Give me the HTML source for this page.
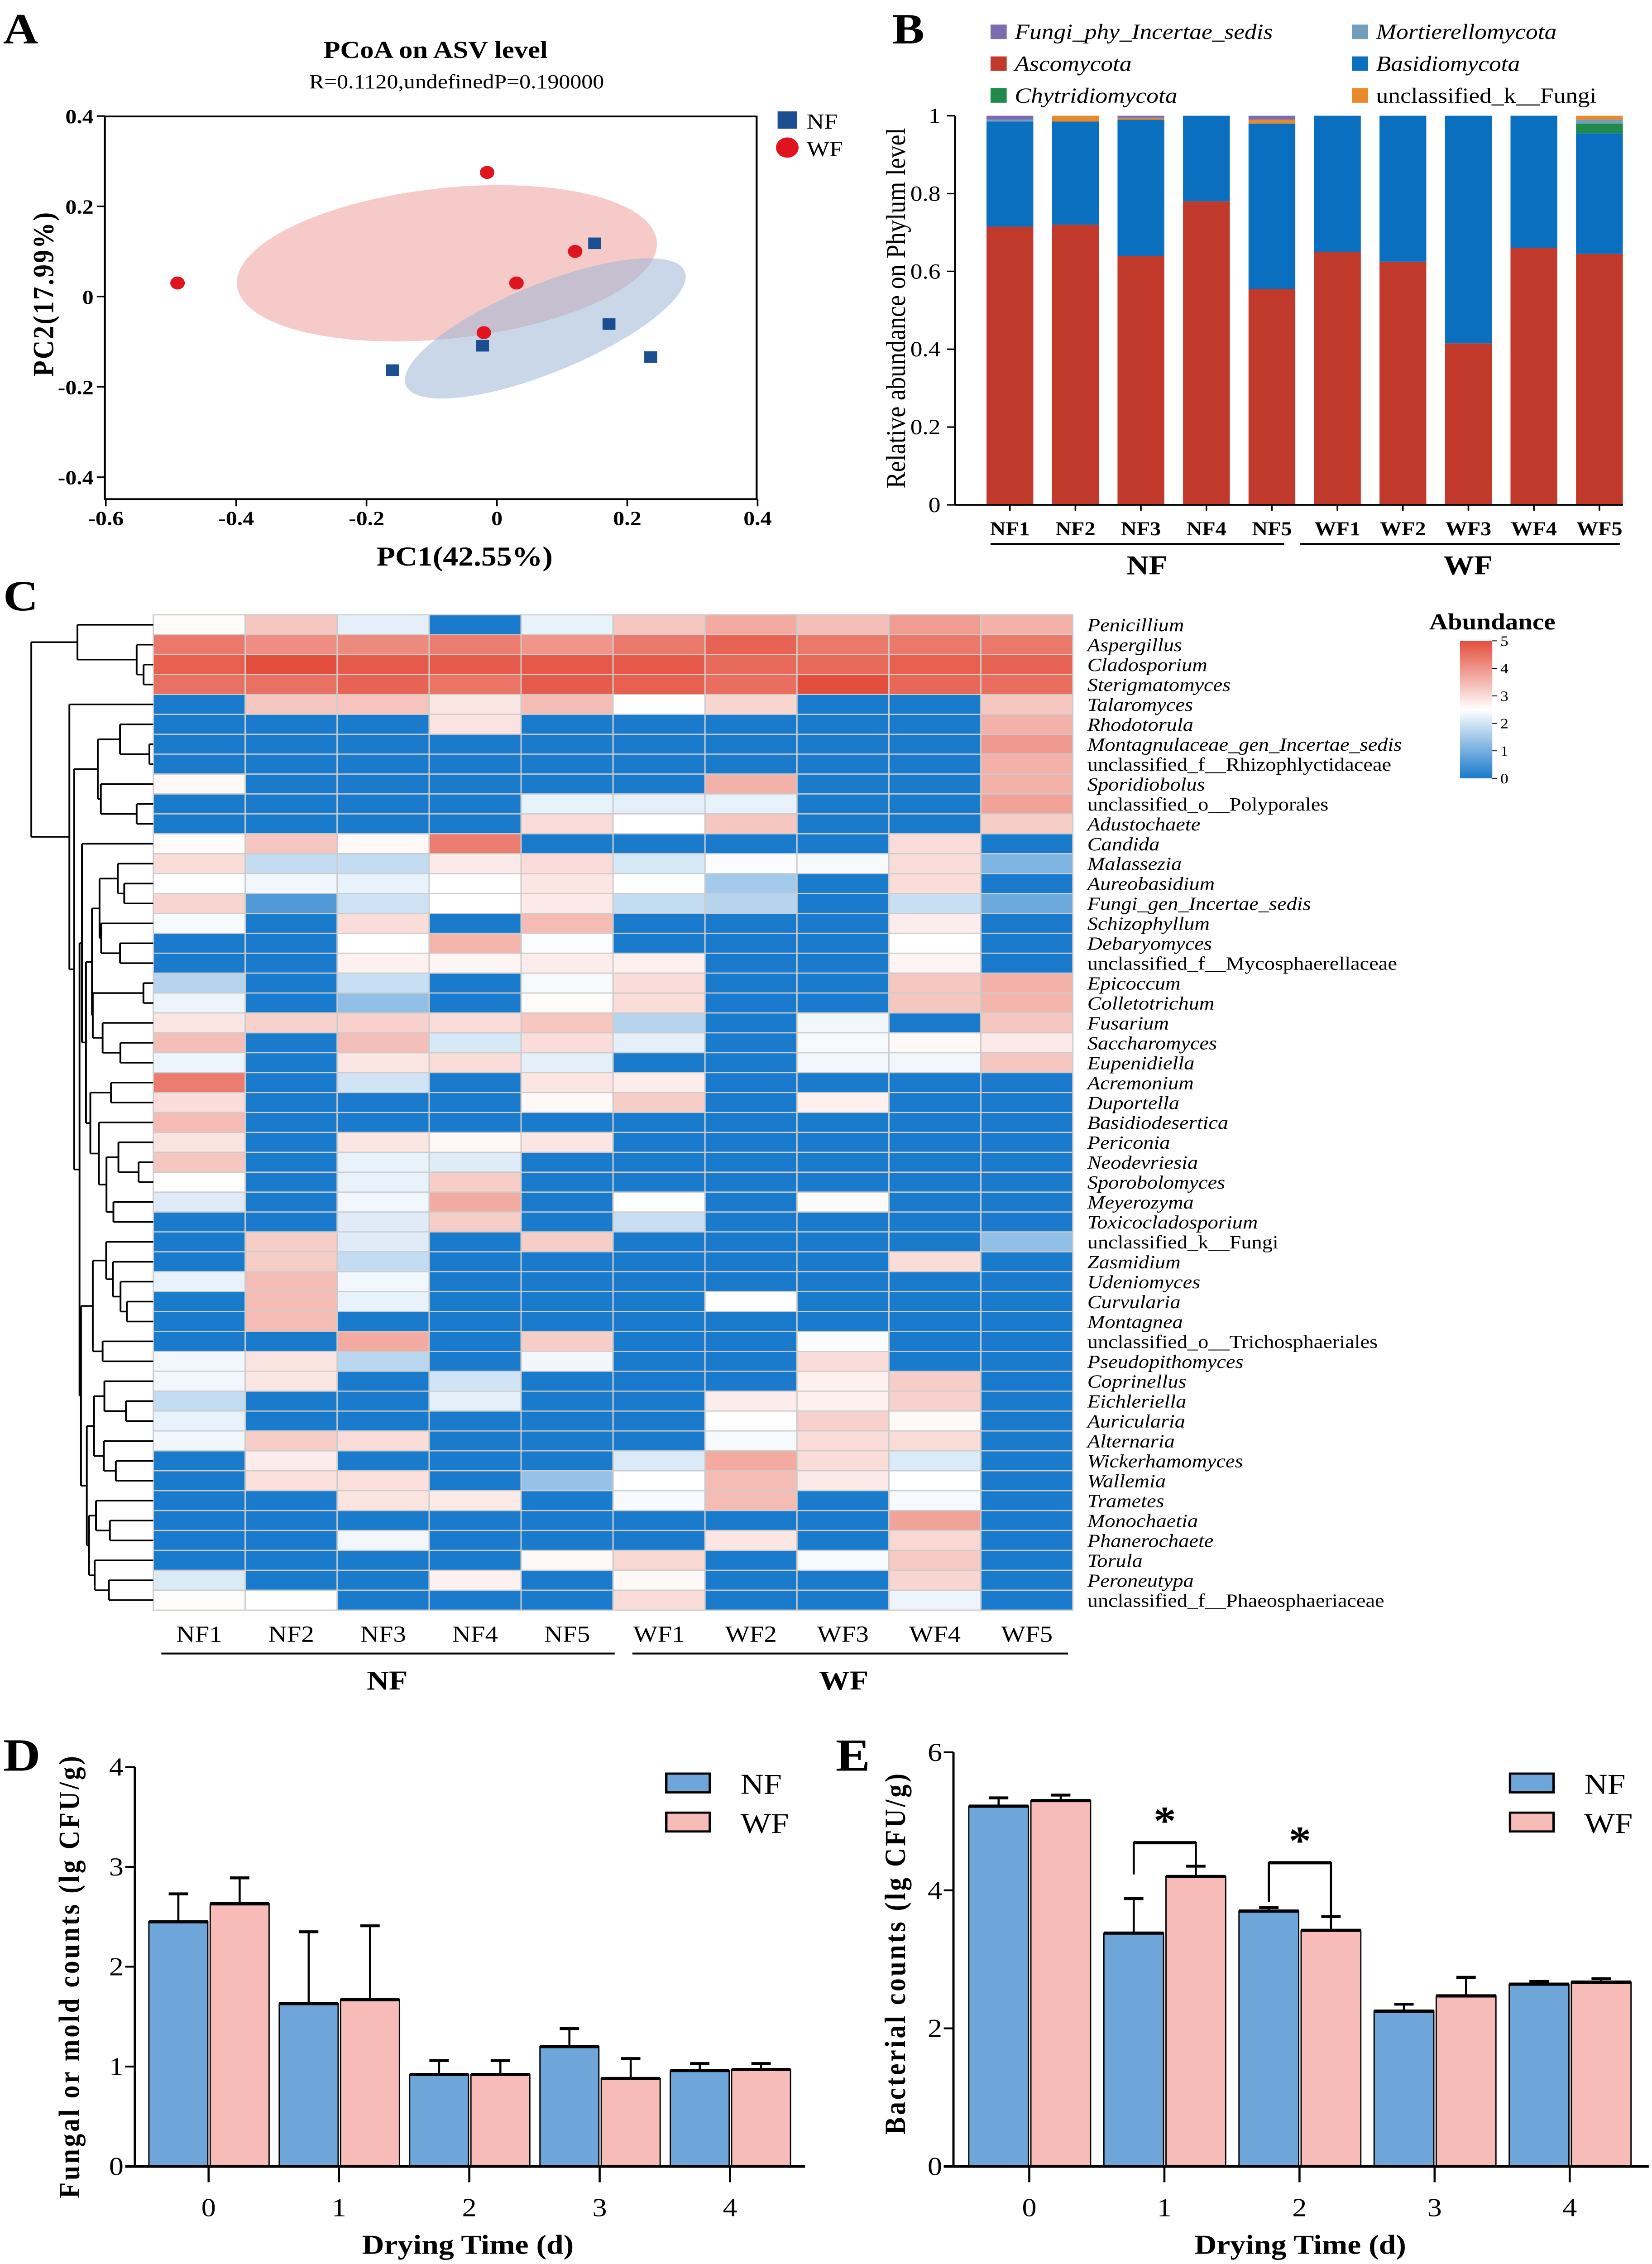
<!DOCTYPE html>
<html><head><meta charset="utf-8"><style>
html,body{margin:0;padding:0;background:#fff;width:100vw;height:100vh;overflow:hidden;}
svg{display:block;position:absolute;left:0;top:0;width:100vw;height:100vh;}
text{font-family:"Liberation Serif",serif;fill:#000;}
</style></head><body>
<svg id="fig" xmlns="http://www.w3.org/2000/svg" viewBox="0 0 1024 1565" preserveAspectRatio="none">
<rect x="0" y="0" width="1024" height="1565" fill="#fff"/>
<g id="A"></g>
<g id="B"></g>
<g id="C"></g>
<g id="D"></g>
<g id="E"></g>
</svg>
<script>
// ===== Panel A data =====
const wfX = [-0.49, -0.015, 0.03, 0.12, -0.02];
const wfY = [0.03, 0.275, 0.03, 0.10, -0.08];
const nfX = [0.15, 0.172, 0.236, -0.022, -0.16];
const nfY = [0.118, -0.061, -0.134, -0.109, -0.163];
const pcoaXTicks = [-0.6, -0.4, -0.2, 0, 0.2, 0.4];
const pcoaYTicks = [-0.4, -0.2, 0, 0.2, 0.4];
// ===== Panel B data =====
const samples = ["NF1","NF2","NF3","NF4","NF5","WF1","WF2","WF3","WF4","WF5"];
const ascomycota = [0.715,0.72,0.64,0.78,0.555,0.65,0.625,0.415,0.66,0.645];
const basidiomycota = [0.27,0.265,0.35,0.22,0.425,0.35,0.375,0.585,0.34,0.31];
const chytridiomycota = [0,0,0,0,0,0,0,0,0,0.025];
const mortierellomycota = [0.005,0,0,0,0,0,0,0,0,0.01];
const unclassifiedFungi = [0,0.015,0.005,0,0.01,0,0,0,0,0.01];
const fungiPhyIncertae = [0.01,0,0.005,0,0.01,0,0,0,0,0];
const phylumTicks = [0,0.2,0.4,0.6,0.8,1];
// ===== Panel C data =====
const genera = ["Penicillium","Aspergillus","Cladosporium","Sterigmatomyces","Talaromyces","Rhodotorula","Montagnulaceae_gen_Incertae_sedis","unclassified_f__Rhizophlyctidaceae","Sporidiobolus","unclassified_o__Polyporales","Adustochaete","Candida","Malassezia","Aureobasidium","Fungi_gen_Incertae_sedis","Schizophyllum","Debaryomyces","unclassified_f__Mycosphaerellaceae","Epicoccum","Colletotrichum","Fusarium","Saccharomyces","Eupenidiella","Acremonium","Duportella","Basidiodesertica","Periconia","Neodevriesia","Sporobolomyces","Meyerozyma","Toxicocladosporium","unclassified_k__Fungi","Zasmidium","Udeniomyces","Curvularia","Montagnea","unclassified_o__Trichosphaeriales","Pseudopithomyces","Coprinellus","Eichleriella","Auricularia","Alternaria","Wickerhamomyces","Wallemia","Trametes","Monochaetia","Phanerochaete","Torula","Peroneutypa","unclassified_f__Phaeosphaeriaceae"];
const abundance = [
[2.55,3.3,2.2,0,2.25,3.3,3.7,3.4,3.9,3.6],
[4.4,4.1,4.15,4.35,4.0,4.4,4.7,4.4,4.4,4.4],
[4.75,5.0,4.8,4.8,4.85,4.85,4.6,4.6,4.75,4.7],
[4.5,4.5,4.7,4.45,4.8,4.75,4.55,5.0,4.65,4.55],
[0,3.3,3.35,2.85,3.45,2.5,3.1,0,0,3.3],
[0,0,0,2.9,0,0,0,0,0,3.6],
[0,0,0,0,0,0,0,0,0,3.95],
[0,0,0,0,0,0,0,0,0,3.6],
[2.6,0,0,0,0,0,3.6,0,0,3.6],
[0,0,0,0,2.25,2.2,2.25,0,0,3.8],
[0,0,0,0,3.0,2.5,3.3,0,0,3.2],
[2.55,3.3,2.6,4.35,0,0,0,0,3.0,0],
[3.0,1.85,1.85,2.8,3.0,2.05,2.45,2.4,3.0,1.1],
[2.5,2.35,2.25,2.5,2.85,2.5,1.5,0,3.0,0],
[3.1,0.6,1.95,2.5,2.8,1.85,1.7,0,1.9,0.9],
[2.4,0,3.0,0,3.45,0,0,0,2.75,0],
[0,0,2.5,3.55,2.45,0,0,0,2.5,0],
[0,0,2.7,2.65,2.75,2.7,0,0,2.65,0],
[1.7,0,1.9,0,2.4,3.0,0,0,3.3,3.6],
[2.3,0,1.3,0,2.55,3.0,0,0,3.3,3.55],
[2.85,3.15,3.15,3.0,3.3,1.7,0,2.35,0,3.3],
[3.4,0,3.4,2.05,3.0,2.2,0,2.4,2.6,2.8],
[2.3,0,2.85,3.0,2.2,0,0,2.35,2.35,3.3],
[4.35,0,2.0,0,2.85,2.75,0,0,0,0],
[3.0,0,0,0,2.6,3.2,0,2.7,0,0],
[3.45,0,0,0,0,0,0,0,0,0],
[2.9,0,2.85,2.6,2.85,0,0,0,0,0],
[3.3,0,2.25,2.15,0,0,0,0,0,0],
[2.5,0,2.25,3.2,0,0,0,0,0,0],
[2.15,0,2.35,3.7,0,2.5,0,2.55,0,0],
[0,0,2.15,3.2,0,1.9,0,0,0,0],
[0,3.2,2.15,0,3.2,0,0,0,0,1.3],
[0,3.2,1.85,0,0,0,0,0,3.0,0],
[2.25,3.45,2.35,0,0,0,0,0,0,0],
[0,3.45,2.25,0,0,0,2.5,0,0,0],
[0,3.45,0,0,0,0,0,0,0,0],
[0,0,3.7,0,3.2,0,0,2.45,0,0],
[2.35,2.9,1.75,0,2.35,0,0,3.0,0,0],
[2.35,2.85,0,2.0,0,0,0,2.7,3.2,0],
[1.85,0,0,2.2,0,0,2.75,2.7,3.15,0],
[2.25,0,0,0,0,0,2.5,3.15,2.6,0],
[2.35,3.2,3.0,0,0,0,2.4,3.0,3.0,0],
[0,2.75,0,0,0,2.1,3.7,3.0,2.1,0],
[0,2.95,2.95,0,1.35,2.5,3.45,2.8,2.5,0],
[0,0,2.9,2.8,0,2.4,3.45,0,2.4,0],
[0,0,0,0,0,0,0,0,3.8,0],
[0,0,2.35,0,0,0,2.85,0,3.05,0],
[0,0,0,0,2.6,3.05,0,2.4,3.25,0],
[2.1,0,0,2.7,0,2.6,0,0,3.1,0],
[2.55,2.5,0,0,0,3.0,0,0,2.3,0]
];
const colorbarTicks = [0,1,2,3,4,5];
// ===== Panel D data =====
const days = [0,1,2,3,4];
const fungalNF = [2.45,1.63,0.92,1.2,0.96];
const fungalWF = [2.63,1.67,0.92,0.88,0.97];
const fungalNFErr = [0.28,0.72,0.14,0.18,0.07];
const fungalWFErr = [0.26,0.74,0.14,0.2,0.06];
const fungalTicks = [0,1,2,3,4];
// ===== Panel E data =====
const bactNF = [5.22,3.38,3.7,2.25,2.64];
const bactWF = [5.3,4.2,3.42,2.47,2.67];
const bactNFErr = [0.12,0.5,0.05,0.1,0.04];
const bactWFErr = [0.08,0.15,0.2,0.27,0.05];
const bactTicks = [0,2,4,6];
const sigDays = [1,2];
const sigTop = [4.69,4.40];
const sigLeftEnd = [4.23,3.83];
const sigRightEnd = [4.36,3.61];

const NS = "http://www.w3.org/2000/svg";
function mk(parent, tag, attrs, txt){
  const e = document.createElementNS(NS, tag);
  for (const k in attrs) e.setAttribute(k, attrs[k]);
  if (txt !== undefined) e.textContent = txt;
  parent.appendChild(e);
  return e;
}

// ================= Panel A =================
(function(){
  const g = document.getElementById('A');
  const xS = v => 308 + v * 404;
  const yS = v => 205 - v * 312;
  let t = mk(g,'text',{x:2,y:30,'font-size':30,'font-weight':'bold','font-family':'Liberation Sans'},'A');
  
  
  t = mk(g,'text',{x:270,y:40,'font-size':17,'font-weight':'bold','text-anchor':'middle'},'PCoA on ASV level');
  
  
  t = mk(g,'text',{x:283,y:61,'font-size':14,'text-anchor':'middle'},'R=0.1120,undefinedP=0.190000');
  
  
  let el = mk(g,'ellipse',{cx:277,cy:182,rx:131,ry:52,transform:'rotate(-7 277 182)',fill:'#f4b3b3','fill-opacity':0.7});
  
  
  el = mk(g,'ellipse',{cx:338,cy:227,rx:95,ry:30,transform:'rotate(-25 338 227)',fill:'#9cb6d6','fill-opacity':0.55});
  
  
  let r = mk(g,'rect',{x:65,y:80.5,width:404,height:264.5,fill:'none',stroke:'#000','stroke-width':1.2});
  
  
  pcoaXTicks.forEach(v=>{
    mk(g,'line',{x1:xS(v),x2:xS(v),y1:345,y2:350,stroke:'#000'});
    const tt = mk(g,'text',{x:xS(v),y:363,'font-size':14,'font-weight':'bold','text-anchor':'middle'},String(v));
    
    
  });
  pcoaYTicks.forEach(v=>{
    mk(g,'line',{x1:60,x2:65,y1:yS(v),y2:yS(v),stroke:'#000'});
    const tt = mk(g,'text',{x:58,y:yS(v)+5,'font-size':14,'font-weight':'bold','text-anchor':'end'},String(v));
    
    
  });
  t = mk(g,'text',{x:288,y:391,'font-size':19,'font-weight':'bold','text-anchor':'middle'},'PC1(42.55%)');
  
  
  t = mk(g,'text',{x:0,y:0,'font-size':18,'font-weight':'bold','text-anchor':'middle','letter-spacing':1,transform:'translate(33 203) rotate(-90)'},'PC2(17.99%)');
  
  
  wfX.forEach((v,i)=>{
    const c = mk(g,'circle',{cx:xS(v),cy:yS(wfY[i]),r:4.5,fill:'#e0141e'});
    
    
  });
  nfX.forEach((v,i)=>{
    const c = mk(g,'rect',{x:xS(v)-4,y:yS(nfY[i])-4,width:8,height:8,fill:'#1b4f91'});
    
    
  });
  r = mk(g,'rect',{x:482,y:77,width:12,height:12,fill:'#1b4f91'});
  
  
  t = mk(g,'text',{x:500,y:89,'font-size':15},'NF');
  
  
  r = mk(g,'circle',{cx:488,cy:102,r:7,fill:'#e0141e'});
  
  
  t = mk(g,'text',{x:500,y:108,'font-size':15},'WF');
  
  
})();

// ================= Panel B =================
(function(){
  const g = document.getElementById('B');
  const yS = v => 349 - v * 269;
  const xC = i => 626 + i * 40.6;
  let t = mk(g,'text',{x:553,y:30,'font-size':30,'font-weight':'bold','font-family':'Liberation Sans'},'B');
  
  
  const series = [
    {v:ascomycota, c:'#c0392b'},
    {v:basidiomycota, c:'#0a6fbf'},
    {v:chytridiomycota, c:'#1f8a4a'},
    {v:mortierellomycota, c:'#6f9fbd'},
    {v:unclassifiedFungi, c:'#e8892c'},
    {v:fungiPhyIncertae, c:'#7b6bb0'}
  ];
  samples.forEach((s,i)=>{
    let base = 0;
    series.forEach(se=>{
      const v = se.v[i];
      if (v > 0){
        const r = mk(g,'rect',{x:xC(i)-14.5,y:yS(base+v),width:29,height:yS(base)-yS(base+v),fill:se.c});
        
        
      }
      base += v;
    });
    const tl = mk(g,'text',{x:xC(i),y:370,'font-size':13.5,'font-weight':'bold','text-anchor':'middle'},s);
    
    
    mk(g,'line',{x1:xC(i),x2:xC(i),y1:349,y2:353,stroke:'#000'});
  });
  mk(g,'line',{x1:592,x2:592,y1:80,y2:349,stroke:'#000','stroke-width':1.2});
  mk(g,'line',{x1:592,x2:1006,y1:349,y2:349,stroke:'#000','stroke-width':1.2});
  phylumTicks.forEach(v=>{
    mk(g,'line',{x1:587,x2:592,y1:yS(v),y2:yS(v),stroke:'#000'});
    const tt = mk(g,'text',{x:583,y:yS(v)+5,'font-size':15,'text-anchor':'end'},String(v));
    
    
  });
  t = mk(g,'text',{x:0,y:0,'font-size':17,'text-anchor':'middle',transform:'translate(561 213) rotate(-90)'},'Relative abundance on Phylum level');
  
  
  mk(g,'line',{x1:614,x2:796,y1:376,y2:376,stroke:'#000','stroke-width':1.3});
  mk(g,'line',{x1:806,x2:1004,y1:376,y2:376,stroke:'#000','stroke-width':1.3});
  t = mk(g,'text',{x:711,y:397,'font-size':19,'font-weight':'bold','text-anchor':'middle'},'NF');
  
  
  t = mk(g,'text',{x:910,y:397,'font-size':19,'font-weight':'bold','text-anchor':'middle'},'WF');
  
  
  const leg = [
    [614,22,'#7b6bb0','Fungi_phy_Incertae_sedis',true],
    [614,44,'#c0392b','Ascomycota',true],
    [614,66,'#1f8a4a','Chytridiomycota',true],
    [838,22,'#6f9fbd','Mortierellomycota',true],
    [838,44,'#0a6fbf','Basidiomycota',true],
    [838,66,'#e8892c','unclassified_k__Fungi',false]
  ];
  leg.forEach(l=>{
    const r = mk(g,'rect',{x:l[0],y:l[1]-5,width:10,height:10,fill:l[2]});
    
    
    const tt = mk(g,'text',{x:l[0]+15,y:l[1]+5,'font-size':15,'font-style':l[4]?'italic':'normal'},l[3]);
    
    
  });
})();

// ================= Panel C =================
(function(){
  const g = document.getElementById('C');
  const X0 = 95, Y0 = 425, CW = 57, RH = 13.76;
  let t = mk(g,'text',{x:2,y:422,'font-size':30,'font-weight':'bold','font-family':'Liberation Sans'},'C');
  
  
  const blue = [26,122,203], white=[255,255,255], red=[228,78,60];
  function col(v){
    let a,b,f;
    if (v <= 2.5){ a=blue; b=white; f=v/2.5; } else { a=white; b=red; f=(v-2.5)/2.5; }
    f = Math.max(0,Math.min(1,f));
    return 'rgb('+a.map((c,k)=>Math.round(c+(b[k]-c)*f)).join(',')+')';
  }
  abundance.forEach((row,ri)=>{
    row.forEach((v,ci)=>{
      const r = mk(g,'rect',{x:X0+ci*CW,y:Y0+ri*RH,width:CW,height:RH,fill:col(v),stroke:'#cccccc','stroke-width':0.8});
      
      
    });
    const nm = genera[ri];
    const tt = mk(g,'text',{x:674,y:Y0+ri*RH+RH/2+4.5,'font-size':13,'font-style':nm.startsWith('unclassified')?'normal':'italic'},nm);
    
    
  });
  samples.forEach((s,i)=>{
    const tt = mk(g,'text',{x:X0+(i+0.5)*CW,y:1135,'font-size':16,'text-anchor':'middle'},s);
    
    
  });
  mk(g,'line',{x1:100,x2:381,y1:1143,y2:1143,stroke:'#000','stroke-width':1.3});
  mk(g,'line',{x1:392,x2:662,y1:1143,y2:1143,stroke:'#000','stroke-width':1.3});
  t = mk(g,'text',{x:240,y:1168,'font-size':19,'font-weight':'bold','text-anchor':'middle'},'NF');
  
  
  t = mk(g,'text',{x:523,y:1168,'font-size':19,'font-weight':'bold','text-anchor':'middle'},'WF');
  
  
  const defs = mk(g,'defs',{});
  const lg = mk(defs,'linearGradient',{id:'cbar',x1:0,y1:1,x2:0,y2:0});
  mk(lg,'stop',{offset:'0',  'stop-color':col(0)});
  mk(lg,'stop',{offset:'0.5','stop-color':col(2.5)});
  mk(lg,'stop',{offset:'1',  'stop-color':col(5)});
  const cb = mk(g,'rect',{x:905,y:443,width:20,height:95,fill:'url(#cbar)'});
  
  
  colorbarTicks.forEach(v=>{
    const y = 538 - v*19;
    mk(g,'line',{x1:925,x2:928,y1:y,y2:y,stroke:'#000','stroke-width':0.6});
    const tt = mk(g,'text',{x:930,y:y+3.5,'font-size':10},String(v));
    
    
  });
  t = mk(g,'text',{x:925,y:435,'font-size':16,'font-weight':'bold','text-anchor':'middle'},'Abundance');
  
  
  const tree = [19.4,
    [48, 0, [84.7, 1, [89, 2, 3]]],
    [43, 4, [46,
      [60.6, [74.4, 5, [92.6, 6, 7]], [62.5, 8, [84.7, 9, 10]]],
      [49.3,
        [50.8, 11, [53.3,
          [57, [61.7, [73, 12, [77, 13, 14]], [62.7, 15, [74.4, 16, 17]]], [57.5, [88.9, 18, 19], [63.6, 20, [74.6, 21, 22]]]],
          [56, [68.8, 23, 24], [61.3, 25, [66, [73.4, 26, [85.9, 27, 28]], [70.3, 29, 30]]]]
        ]],
        [50.2,
          [57.5, [65.8, 31, [70, 32, [74.7, 33, [78.6, 34, 35]]]], [63.6, 36, 37]],
          [53.8, [58.3, [64.7, 38, [78.1, 39, 40]], [64.4, 41, [71.8, 42, 43]]], [55.2, [59.5, 44, [68.1, 45, 46]], [58.7, 47, [67.5, 48, 49]]]]
        ]
      ]
    ]]
  ];
  const dg = mk(g,'g',{stroke:'#000','stroke-width':1.1,fill:'none'});
  
  
  function draw(n){
    if (typeof n === 'number') return {x:X0, y:Y0+n*RH+RH/2};
    const a = draw(n[1]), b = draw(n[2]);
    const x = n[0];
    mk(dg,'line',{x1:x,x2:x,y1:a.y,y2:b.y});
    mk(dg,'line',{x1:x,x2:a.x,y1:a.y,y2:a.y});
    mk(dg,'line',{x1:x,x2:b.x,y1:b.y,y2:b.y});
    return {x:x, y:(a.y+b.y)/2};
  }
  draw(tree);
})();

// ================= Bar charts D & E =================
function barPanel(id, letter, lx, cfg){
  const g = document.getElementById(id);
  const y0 = 1497.5;
  const yS = v => y0 - v * cfg.unit;
  let t = mk(g,'text',{x:lx,y:1224,'font-size':32,'font-weight':'bold'},letter);
  
  
  const xC = d => cfg.c0 + d * cfg.step;
  days.forEach((d,i)=>{
    [[cfg.nf[i],cfg.nfe[i],xC(d)-cfg.bw-0.5,'#6fa6d9','nf'],[cfg.wf[i],cfg.wfe[i],xC(d)+1,'#f7bbb8','wf']].forEach(b=>{
      const cx = b[2]+cfg.bw/2;
      mk(g,'line',{x1:cx,x2:cx,y1:yS(b[0]),y2:yS(b[0]+b[1]),stroke:'#000','stroke-width':1.3});
      mk(g,'line',{x1:cx-6,x2:cx+6,y1:yS(b[0]+b[1]),y2:yS(b[0]+b[1]),stroke:'#000','stroke-width':2});
      const r = mk(g,'rect',{x:b[2],y:yS(b[0]),width:cfg.bw,height:yS(0)-yS(b[0]),fill:b[3],stroke:'#000','stroke-width':0.8});
      
      
      mk(g,'line',{x1:b[2],x2:b[2]+cfg.bw,y1:yS(b[0]),y2:yS(b[0]),stroke:'#000','stroke-width':2.2});
    });
    mk(g,'line',{x1:xC(d),x2:xC(d),y1:y0,y2:y0+11,stroke:'#000','stroke-width':1.3});
    const tt = mk(g,'text',{x:xC(d),y:1532,'font-size':18,'text-anchor':'middle'},String(d));
    
    
  });
  mk(g,'line',{x1:cfg.ax,x2:cfg.ax,y1:yS(cfg.ticks[cfg.ticks.length-1]),y2:y0,stroke:'#000','stroke-width':1.4});
  mk(g,'line',{x1:cfg.ax-6,x2:cfg.xEnd,y1:y0,y2:y0,stroke:'#000','stroke-width':2});
  cfg.ticks.forEach(v=>{
    mk(g,'line',{x1:cfg.ax-6,x2:cfg.ax,y1:yS(v),y2:yS(v),stroke:'#000','stroke-width':1.3});
    const tt = mk(g,'text',{x:cfg.ax-7,y:yS(v)+6,'font-size':18,'text-anchor':'end'},String(v));
    
    
  });
  t = mk(g,'text',{x:0,y:0,'font-size':18,'font-weight':'bold','text-anchor':'middle','letter-spacing':1.5,transform:'translate('+cfg.ytx+' '+cfg.yty+') rotate(-90)'},cfg.ytitle);
  
  
  t = mk(g,'text',{x:cfg.xtx,y:1558,'font-size':19,'font-weight':'bold','text-anchor':'middle'},'Drying Time (d)');
  
  
  let r = mk(g,'rect',{x:cfg.legx,y:1226,width:27,height:13,fill:'#6fa6d9',stroke:'#000','stroke-width':1.5});
  
  
  t = mk(g,'text',{x:cfg.legx+46,y:1240,'font-size':20},'NF');
  
  
  r = mk(g,'rect',{x:cfg.legx,y:1253,width:27,height:13,fill:'#f7bbb8',stroke:'#000','stroke-width':1.5});
  
  
  t = mk(g,'text',{x:cfg.legx+46,y:1267,'font-size':20},'WF');
  
  
  return {g, yS, xC, bw:cfg.bw};
}
barPanel('D','D',2,{unit:69,c0:129.3,step:80.8,bw:36.5,nf:fungalNF,wf:fungalWF,nfe:fungalNFErr,wfe:fungalWFErr,ticks:fungalTicks,ax:83.6,xEnd:499,ytx:49,yty:1366,ytitle:'Fungal or mold counts (lg CFU/g)',xtx:290,legx:413});
const pe = barPanel('E','E',518,{unit:47.7,c0:638,step:83.75,bw:37,nf:bactNF,wf:bactWF,nfe:bactNFErr,wfe:bactWFErr,ticks:bactTicks,ax:591,xEnd:1022,ytx:561,yty:1350,ytitle:'Bacterial counts (lg CFU/g)',xtx:806,legx:936});
(function(){
  const g = pe.g;
  sigDays.forEach((d,i)=>{
    const xl = pe.xC(d) - pe.bw/2 - 0.5, xr = pe.xC(d) + pe.bw/2 + 1;
    const top = pe.yS(sigTop[i]);
    const pth = mk(g,'path',{d:'M'+xl+' '+pe.yS(sigLeftEnd[i])+' V'+top+' H'+xr+' V'+pe.yS(sigRightEnd[i]),fill:'none',stroke:'#000','stroke-width':1.3});
    
    
    mk(g,'line',{x1:xl,x2:xr,y1:top,y2:top,stroke:'#000','stroke-width':2.2});
    const st = mk(g,'text',{x:(xl+xr)/2,y:top-6,'font-size':28,'font-weight':'bold','text-anchor':'middle','font-family':'Liberation Sans'},'*');
    
    
  });
})();
</script>
</body></html>
